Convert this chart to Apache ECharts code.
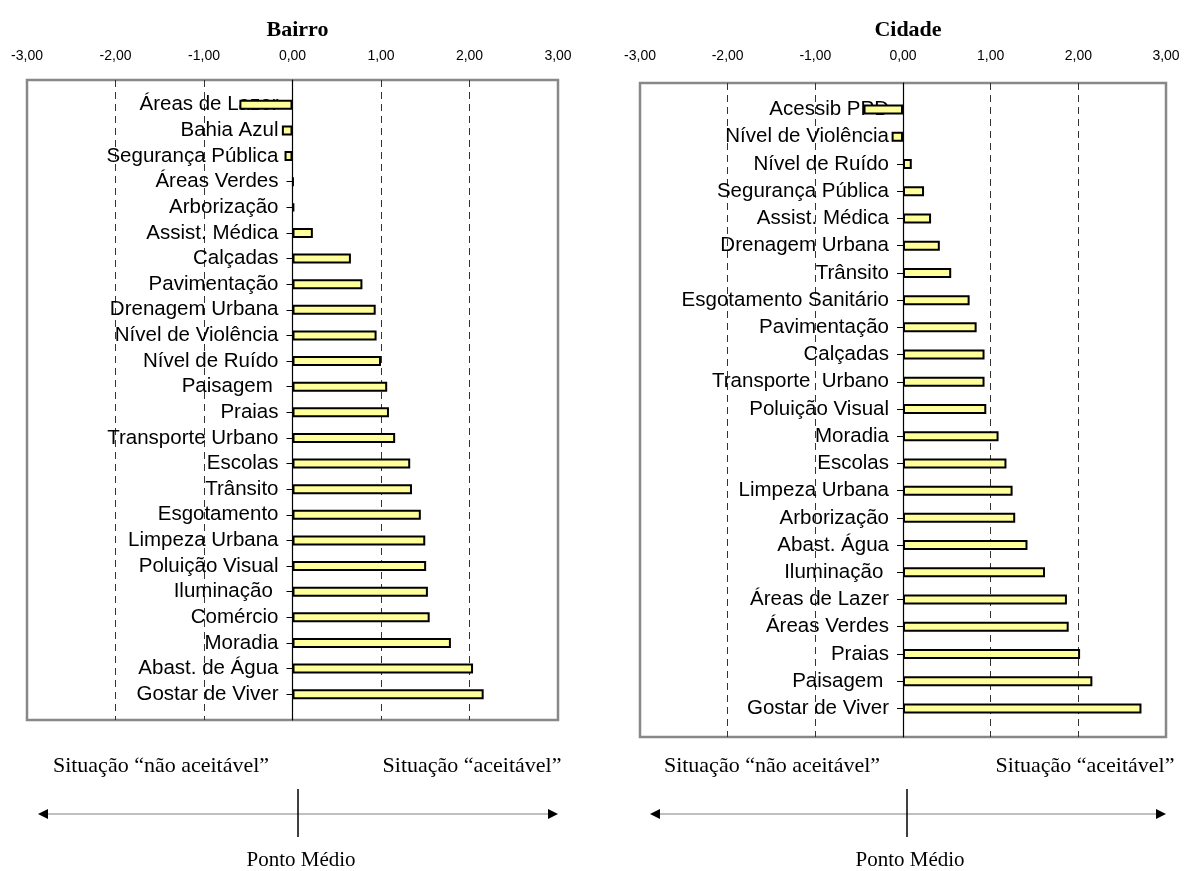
<!DOCTYPE html>
<html><head><meta charset="utf-8">
<script src="https://cdn.jsdelivr.net/npm/echarts@6/dist/echarts.min.js"></script>
<style>html,body{margin:0;padding:0;background:#fff}#c{width:1184px;height:871px}</style>
</head><body><div id="c"></div>
<script>
// ---- DATA ----
const bairroCats = ['Áreas de Lazer','Bahia Azul','Segurança Pública','Áreas Verdes','Arborização','Assist. Médica','Calçadas','Pavimentação','Drenagem Urbana','Nível de Violência','Nível de Ruído','Paisagem ','Praias','Transporte Urbano','Escolas','Trânsito','Esgotamento','Limpeza Urbana','Poluição Visual','Iluminação ','Comércio','Moradia','Abast. de Água','Gostar de Viver'];
const bairroVals = [-0.60,-0.12,-0.09,0.01,0.02,0.23,0.66,0.79,0.94,0.95,1.00,1.07,1.09,1.16,1.33,1.35,1.45,1.50,1.51,1.53,1.55,1.79,2.04,2.16];

const cidadeCats = ['Acessib PPD','Nível de Violência','Nível de Ruído','Segurança Pública','Assist. Médica','Drenagem Urbana','Trânsito','Esgotamento Sanitário','Pavimentação','Calçadas','Transporte  Urbano','Poluição Visual','Moradia','Escolas','Limpeza Urbana','Arborização','Abast. Água','Iluminação ','Áreas de Lazer','Áreas Verdes','Praias','Paisagem ','Gostar de Viver'];
const cidadeVals = [-0.45,-0.13,0.10,0.24,0.32,0.42,0.55,0.76,0.84,0.93,0.93,0.95,1.09,1.18,1.25,1.28,1.42,1.62,1.87,1.89,2.02,2.16,2.72];

const titles = ['Bairro','Cidade'];
const axisMin = -3, axisMax = 3, axisStep = 1;
const leftNote = 'Situação “não aceitável”';
const rightNote = 'Situação “aceitável”';
const midNote = 'Ponto Médio';

// ---- LAYOUT ----
const fmt = v => (Math.abs(v) < 1e-9 ? 0 : v).toFixed(2).replace('.', ',');
const panels = [
  {title: titles[0], cats: bairroCats, vals: bairroVals,
   frame: {left: 27, top: 80, width: 531, height: 640}, band: {top: 92, height: 615}, labelMargin: 17,
   notes: {l: 161, r: 472, mid: 298, a0: 38, a1: 558}},
  {title: titles[1], cats: cidadeCats, vals: cidadeVals,
   frame: {left: 640, top: 83, width: 526, height: 654}, band: {top: 96, height: 626}, labelMargin: 20,
   notes: {l: 772, r: 1085, mid: 907, a0: 650, a1: 1166}}
];

const grid = [], xAxis = [], yAxis = [], series = [], title = [], graphic = [];
const sans = 'Liberation Sans, Arial, sans-serif';
const serif = 'Liberation Serif, Times New Roman, serif';

panels.forEach((p, i) => {
  const gF = 2 * i, gB = 2 * i + 1;
  const cx = p.frame.left + p.frame.width / 2;
  // pixel distance from grid's left edge to the value-axis origin (0)
  const zeroShift = (0 - axisMin) / (axisMax - axisMin) * p.frame.width;
  title.push({text: p.title, left: cx, top: 14, textAlign: 'center',
    textStyle: {fontFamily: serif, fontWeight: 'bold', fontSize: 22, color: '#000'}});
  grid.push({left: p.frame.left, top: p.frame.top, width: p.frame.width, height: p.frame.height,
    show: true, borderColor: '#888', borderWidth: 2.5, backgroundColor: '#fff',
    containLabel: false, outerBoundsMode: 'none'});
  grid.push({left: p.frame.left, top: p.band.top, width: p.frame.width, height: p.band.height,
    containLabel: false, outerBoundsMode: 'none'});
  xAxis.push({gridIndex: gF, type: 'value', min: axisMin, max: axisMax, interval: axisStep, position: 'top',
    axisLine: {show: false, onZero: false}, axisTick: {show: false},
    axisLabel: {formatter: fmt, fontFamily: sans, fontSize: 14, color: '#000', margin: p.labelMargin},
    splitLine: {show: true, showMinLine: false, showMaxLine: false, lineStyle: {type: [7, 5], color: '#333', width: 1}}});
  xAxis.push({gridIndex: gB, type: 'value', min: axisMin, max: axisMax, interval: axisStep, show: false});
  yAxis.push({gridIndex: gF, type: 'value', min: 0, max: 1,
    axisLine: {show: true, onZero: true, lineStyle: {color: '#000', width: 1.2}},
    axisTick: {show: false}, axisLabel: {show: false}, splitLine: {show: false}});
  yAxis.push({gridIndex: gB, type: 'category', data: p.cats, inverse: true, position: 'left',
    offset: -zeroShift,
    axisLine: {show: false, onZero: false},
    axisTick: {show: true, alignWithLabel: true, length: 6, lineStyle: {color: '#000', width: 1}},
    axisLabel: {interval: 0, fontFamily: sans, fontSize: 20.5, color: '#000', margin: 14},
    splitLine: {show: false}});
  series.push({type: 'bar', xAxisIndex: gB, yAxisIndex: gB, data: p.vals, barWidth: 10, silent: true,
    itemStyle: {color: '#FFFF99', borderColor: '#000', borderWidth: 2}});

  const n = p.notes, yT = 766, yA = 814;
  graphic.push({type: 'text', x: n.l, y: yT, style: {text: leftNote, fontFamily: serif, fontSize: 22, fill: '#000', align: 'center', verticalAlign: 'middle'}});
  graphic.push({type: 'text', x: n.r, y: yT, style: {text: rightNote, fontFamily: serif, fontSize: 22, fill: '#000', align: 'center', verticalAlign: 'middle'}});
  graphic.push({type: 'line', shape: {x1: n.a0 + 8, y1: yA, x2: n.a1 - 8, y2: yA}, style: {stroke: '#aaa', lineWidth: 1.5}});
  graphic.push({type: 'polygon', shape: {points: [[n.a0, yA], [n.a0 + 10, yA - 5], [n.a0 + 10, yA + 5]]}, style: {fill: '#000'}});
  graphic.push({type: 'polygon', shape: {points: [[n.a1, yA], [n.a1 - 10, yA - 5], [n.a1 - 10, yA + 5]]}, style: {fill: '#000'}});
  graphic.push({type: 'line', shape: {x1: n.mid, y1: 789, x2: n.mid, y2: 837}, style: {stroke: '#000', lineWidth: 1.5}});
  graphic.push({type: 'text', x: n.mid + 3, y: 860, style: {text: midNote, fontFamily: serif, fontSize: 21, fill: '#000', align: 'center', verticalAlign: 'middle'}});
});

const chart = echarts.init(document.getElementById('c'), null, {renderer: 'canvas'});
chart.setOption({animation: false, backgroundColor: '#fff', title, grid, xAxis, yAxis, series, graphic});
</script>
</body></html>
